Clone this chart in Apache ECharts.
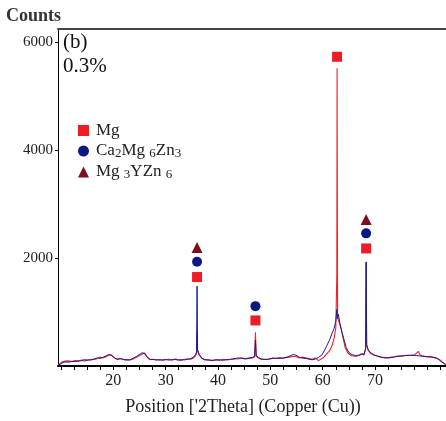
<!DOCTYPE html>
<html>
<head>
<meta charset="utf-8">
<script src="https://cdn.jsdelivr.net/npm/echarts@6/dist/echarts.min.js"></script>
<style>html,body{margin:0;padding:0;background:#fff}#c{width:446px;height:421px}</style>
</head>
<body>
<div id="c"></div>
<script>
// 2Theta / counts pairs
const blueProfile = [
 [9.45,10],[9.8,40],[10.3,60],[10.8,75],[11.3,70],[12.0,80],[12.7,85],[13.4,90],[14.0,100],[14.6,95],
 [15.2,115],[15.8,110],[16.4,135],[17.0,150],[17.5,140],[18.0,160],[18.6,185],[19.1,215],[19.4,235],[19.8,190],
 [20.3,140],[20.8,130],[21.4,135],[22.0,120],[22.6,110],[23.2,115],[23.8,145],[24.4,175],[25.0,215],[25.5,245],
 [25.9,235],[26.4,170],[27.0,125],[27.6,120],[28.2,115],[28.8,110],[29.4,115],[30.0,120],[30.6,110],[31.2,115],
 [31.8,120],[32.4,110],[33.0,105],[33.6,125],[34.2,120],[34.8,140],[35.3,165],[35.7,210],[35.9,260],[36.0,1480],
 [36.1,300],[36.4,220],[36.9,140],[37.5,120],[38.2,110],[38.9,105],[39.6,110],[40.3,115],[41.0,105],[41.7,120],
 [42.4,125],[43.1,130],[43.8,150],[44.5,140],[45.2,135],[45.9,150],[46.6,160],[47.0,185],[47.15,480],[47.3,190],
 [47.7,160],[48.3,130],[49.0,120],[49.7,125],[50.4,140],[51.1,145],[51.8,140],[52.5,150],[53.2,165],[53.8,190],
 [54.4,215],[54.9,200],[55.5,165],[56.1,145],[56.8,140],[57.4,125],[58.0,115],[58.6,130],[59.2,160],[59.8,200],
 [60.3,280],[60.8,380],[61.3,480],[61.8,610],[62.2,700],[62.5,830],[62.7,1050],[62.8,880],[63.0,960],[63.3,780],
 [63.7,620],[64.1,480],[64.5,340],[65.0,250],[65.6,210],[66.3,195],[66.9,200],[67.5,230],[67.9,215],[68.2,330],
 [68.3,1930],[68.4,400],[68.7,300],[69.2,240],[69.8,210],[70.5,180],[71.2,160],[72.0,150],[72.8,150],[73.6,165],
 [74.4,180],[75.2,190],[76.0,195],[76.8,200],[77.6,195],[78.3,190],[79.0,180],[79.8,175],[80.6,165],[81.3,160],
 [81.8,150],[82.3,110],[82.8,70],[83.3,40],[83.56,20]
];
const redProfile = [
 [9.45,20],[9.8,55],[10.3,80],[10.8,90],[11.3,95],[12.0,85],[12.7,100],[13.4,95],[14.0,110],[14.6,120],
 [15.2,105],[15.8,125],[16.4,120],[17.0,140],[17.5,165],[18.0,150],[18.6,170],[19.1,200],[19.5,215],[19.9,175],
 [20.3,150],[20.8,120],[21.4,140],[22.0,115],[22.6,120],[23.2,110],[23.8,130],[24.4,160],[25.0,195],[25.6,225],
 [26.0,240],[26.5,160],[27.0,115],[27.6,125],[28.2,110],[28.8,120],[29.4,105],[30.0,115],[30.6,125],[31.2,110],
 [31.8,130],[32.4,115],[33.0,120],[33.6,110],[34.2,135],[34.8,125],[35.3,150],[35.7,190],[35.9,230],[36.0,650],
 [36.1,280],[36.4,200],[36.9,150],[37.5,110],[38.2,115],[38.9,100],[39.6,120],[40.3,105],[41.0,125],[41.7,110],
 [42.4,120],[43.1,140],[43.8,130],[44.5,155],[45.2,130],[45.9,140],[46.6,150],[47.0,170],[47.15,625],[47.3,180],
 [47.7,150],[48.3,120],[49.0,125],[49.7,130],[50.4,150],[51.1,140],[51.8,155],[52.5,145],[53.2,160],[53.8,170],
 [54.4,180],[54.9,175],[55.5,150],[56.1,165],[56.8,150],[57.4,140],[58.0,125],[58.6,150],[59.2,100],[59.8,135],
 [60.3,170],[60.8,230],[61.3,280],[61.8,380],[62.2,520],[62.5,700],[62.7,1700],[62.75,5520],[62.85,900],[63.1,830],
 [63.5,700],[63.9,520],[64.3,340],[64.8,240],[65.5,190],[66.3,175],[66.9,195],[67.5,220],[67.9,205],[68.2,310],
 [68.3,1920],[68.4,380],[68.7,290],[69.2,230],[69.8,200],[70.5,185],[71.2,165],[72.0,155],[72.8,160],[73.6,170],
 [74.4,185],[75.2,180],[76.0,200],[76.8,195],[77.6,210],[78.3,270],[78.6,205],[79.0,190],[79.8,170],[80.6,175],
 [81.3,155],[81.8,140],[82.3,120],[82.8,80],[83.3,45],[83.56,25]
];
const mgMarks = [[36.0,1650],[47.15,845],[62.75,5735],[68.3,2180]];
const caMarks = [[36.0,1935],[47.15,1110],[68.3,2460]];
const yMarks = [[36.0,2200],[68.3,2715]];
const xLabels = [20,30,40,50,60,70];
const xTicks = [10,12.5,15,17.5,20,22.5,25,27.5,30,32.5,35,37.5,40,42.5,45,47.5,50,52.5,55,57.5,60,62.5,65,67.5,70,72.5,75,77.5,80,82.5];
const yTicks = [2000,4000,6000];
const seriesNames = ['Mg','Ca2Mg6Zn3','Mg3YZn6'];

const serif = '"Liberation Serif","Times New Roman",serif';
const chart = echarts.init(document.getElementById('c'), null, {renderer:'canvas'});
const legendRich = {
  n: {fontFamily: serif, fontSize: 17, color: '#222', lineHeight: 18, verticalAlign: 'middle'},
  s: {fontFamily: serif, fontSize: 13, color: '#222', lineHeight: 18, verticalAlign: 'bottom', padding: [7,0,0,0]}
};
const legendFmt = {
  'Mg': '{n|Mg}',
  'Ca2Mg6Zn3': '{n|Ca}{s|2}{n|Mg }{s|6}{n|Zn}{s|3}',
  'Mg3YZn6': '{n|Mg }{s|3}{n|YZn }{s|6}'
};
chart.setOption({
  animation: false,
  backgroundColor: '#fff',
  grid: {left: 58, right: 0, top: 29, bottom: 51, containLabel: false},
  graphic: [
    {type:'text', left: 6, top: 7, style:{text:'Counts', font:'bold 18px ' + serif, fill:'#333'}},
    {type:'text', left: 63, top: 32, style:{text:'(b)', font:'21px ' + serif, fill:'#111'}},
    {type:'text', left: 63, top: 56, style:{text:'0.3%', font:'21px ' + serif, fill:'#111'}}
  ],
  legend: {
    data: seriesNames,
    orient: 'vertical', left: 78, top: 122, padding: 0,
    itemWidth: 11, itemHeight: 11, itemGap: 1,
    formatter: n => legendFmt[n],
    textStyle: {rich: legendRich, padding: [0,0,0,2]},
    itemStyle: {opacity: 1},
    selectedMode: false
  },
  xAxis: [{
    type: 'value', min: 9.43, max: 83.56,
    axisLine: {show: true, lineStyle: {color: '#000', width: 2}},
    axisTick: {show: true, customValues: xTicks, length: 4, lineStyle: {color: '#000'}},
    axisLabel: {customValues: xLabels, fontFamily: serif, fontSize: 16, color: '#222', margin: 7},
    splitLine: {show: false},
    name: "Position ['2Theta] (Copper (Cu))", nameLocation: 'middle', nameGap: 32,
    nameTextStyle: {fontFamily: serif, fontSize: 18, color: '#222', padding: [0, 18, 0, 0]}
  }, {
    type: 'value', position: 'top', min: 9.43, max: 83.56,
    axisLine: {show: true, onZero: false, lineStyle: {color: '#444', width: 2}},
    axisTick: {show: false}, axisLabel: {show: false}, splitLine: {show: false}
  }],
  yAxis: {
    type: 'value', min: 0, max: 6250, interval: 2000,
    axisLine: {show: true, lineStyle: {color: '#000', width: 1}},
    axisTick: {show: true, customValues: yTicks, length: 3, lineStyle: {color: '#000'}},
    axisLabel: {customValues: yTicks, formatter: v => String(v), fontFamily: serif, fontSize: 15, color: '#222', margin: 5},
    splitLine: {show: false}
  },
  series: [
    {name:'red', type:'line', data: redProfile, showSymbol:false, symbol:'none', lineStyle:{color:'#f0202c', width:1.1}, z:2},
    {name:'blue', type:'line', data: blueProfile, showSymbol:false, symbol:'none', lineStyle:{color:'#1c1c96', width:1}, z:3},
    {name:'Mg', type:'scatter', data: mgMarks, symbol:'rect', symbolSize:10, itemStyle:{color:'#ee1c25', opacity:1}, z:5},
    {name:'Ca2Mg6Zn3', type:'scatter', data: caMarks, symbol:'circle', symbolSize:10, itemStyle:{color:'#0b1a82', opacity:1}, z:5},
    {name:'Mg3YZn6', type:'scatter', data: yMarks, symbol:'triangle', symbolSize:11, itemStyle:{color:'#7e0e1c', opacity:1}, z:5}
  ]
});
</script>
</body>
</html>
